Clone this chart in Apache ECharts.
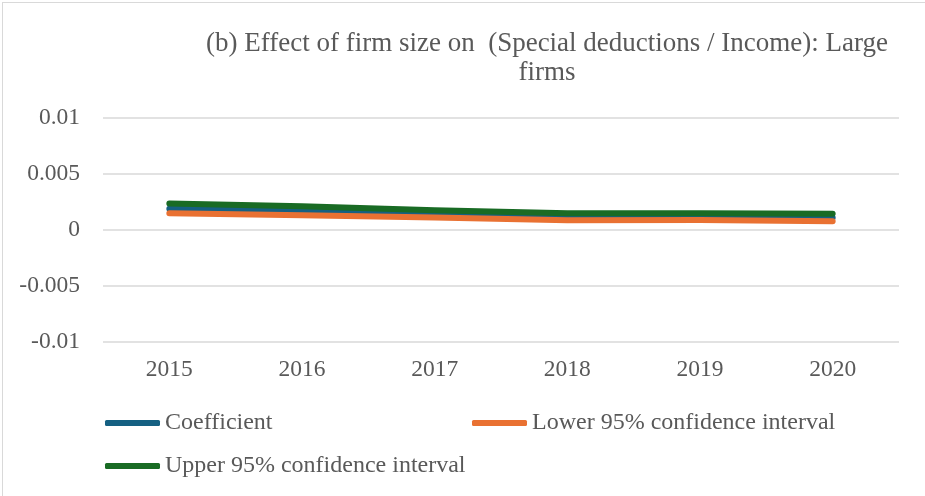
<!DOCTYPE html>
<html>
<head>
<meta charset="utf-8">
<script src="https://cdn.jsdelivr.net/npm/echarts@6/dist/echarts.min.js"></script>
<style>
  html, body { margin: 0; padding: 0; background: #fff; overflow: hidden; }
  #chart { position: absolute; left: 0; top: 0; width: 925px; height: 496px; }
  #frame { position: absolute; left: 2px; top: 2px; width: 960px; height: 520px;
           border: 1.5px solid #d9d9d9; pointer-events: none; }
</style>
</head>
<body>
<div id="chart"></div>
<div id="frame"></div>
<script>
// Years on the horizontal axis
const years = ['2015', '2016', '2017', '2018', '2019', '2020'];
// Estimated effect of firm size and its 95% confidence bounds
const coefficient = [0.0019, 0.0017, 0.00145, 0.0012, 0.0012, 0.0011];
const lower95 = [0.0015, 0.00132, 0.00112, 0.00088, 0.0009, 0.00079];
const upper95 = [0.00237, 0.00213, 0.00177, 0.0015, 0.0015, 0.00145];
// Value-axis ticks
const yTicks = [-0.01, -0.005, 0, 0.005, 0.01];

const font = '"Liberation Serif", "Times New Roman", serif';
const textColor = '#595959';

const colors = { coef: '#156082', lower: '#E97132', upper: '#196B24' };

function lineSeries(name, data, color) {
  return {
    name: name,
    type: 'line',
    data: data,
    symbol: 'none',
    smooth: false,
    lineStyle: { color: color, width: 6, cap: 'round', join: 'round' },
    itemStyle: { color: color }
  };
}

function legendAt(name, left, top) {
  return {
    data: [name],
    left: left,
    top: top,
    padding: 0,
    icon: 'roundRect',
    itemWidth: 55,
    itemHeight: 6,
    textStyle: { fontFamily: font, fontSize: 24, color: textColor },
    selectedMode: false
  };
}

const chart = echarts.init(document.getElementById('chart'), null, { renderer: 'canvas' });
chart.setOption({
  animation: false,
  backgroundColor: '#fff',
  title: {
    text: '(b) Effect of firm size on  (Special deductions / Income): Large\nfirms',
    left: 542,
    top: 24,
    textAlign: 'center',
    textStyle: { fontFamily: font, fontSize: 27, fontWeight: 'normal', color: textColor, lineHeight: 29 }
  },
  grid: { left: 103, right: 26, top: 118, bottom: 154 },
  legend: [
    legendAt('Coefficient', 105, 411),
    legendAt('Lower 95% confidence interval', 472, 411),
    legendAt('Upper 95% confidence interval', 105, 454)
  ],
  xAxis: {
    type: 'category',
    data: years,
    boundaryGap: true,
    axisLine: { show: false },
    axisTick: { show: false },
    axisLabel: { fontFamily: font, fontSize: 23.5, color: textColor, margin: 16 }
  },
  yAxis: {
    type: 'value',
    min: yTicks[0],
    max: yTicks[yTicks.length - 1],
    interval: yTicks[1] - yTicks[0],
    axisLine: { show: false },
    axisTick: { show: false },
    splitLine: { lineStyle: { color: '#d9d9d9', width: 1.5 } },
    axisLabel: { fontFamily: font, fontSize: 23.5, color: textColor, margin: 23 }
  },
  series: [
    lineSeries('Coefficient', coefficient, colors.coef),
    lineSeries('Lower 95% confidence interval', lower95, colors.lower),
    lineSeries('Upper 95% confidence interval', upper95, colors.upper)
  ]
});
</script>
</body>
</html>
